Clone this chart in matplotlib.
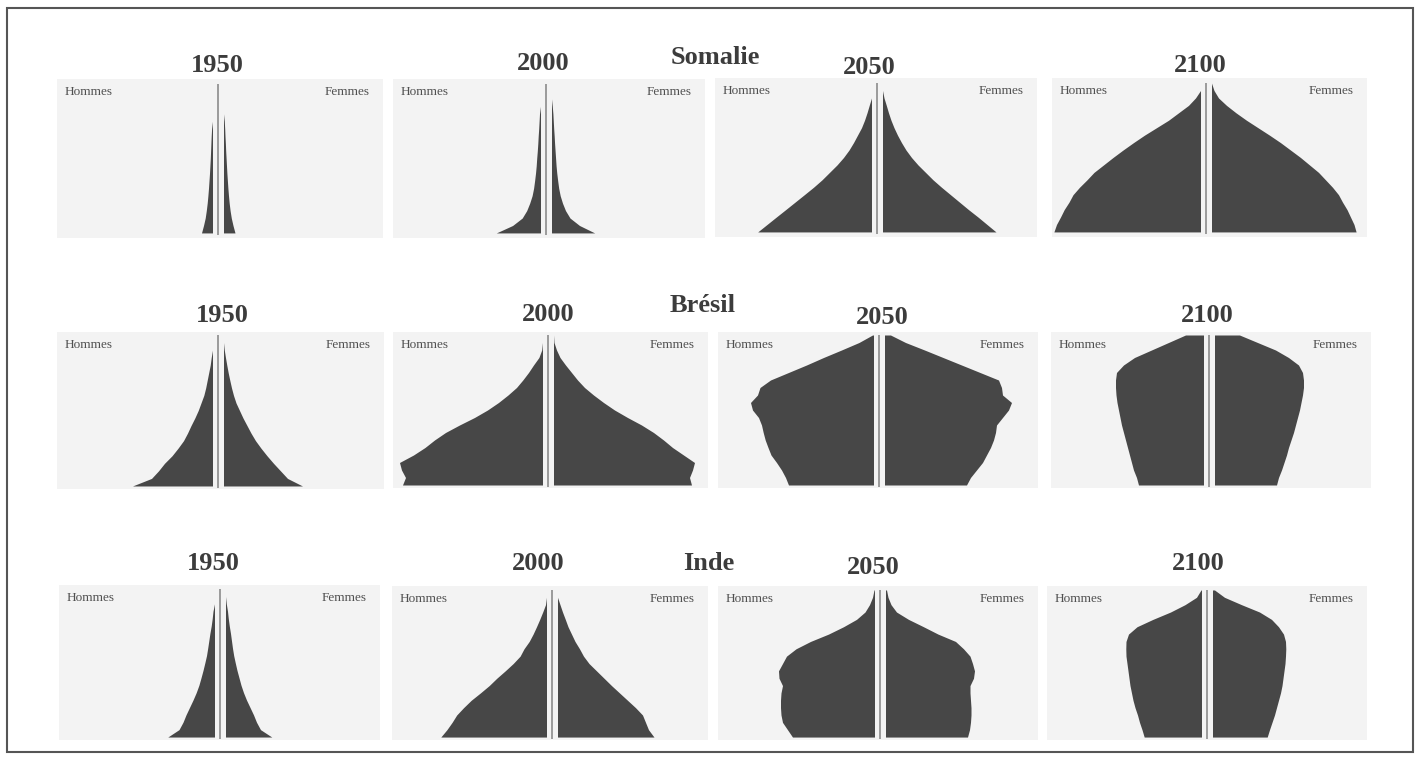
import matplotlib.pyplot as plt
from matplotlib.patches import Rectangle

W, H = 1421, 760

AGES = list(range(0, 101, 5))
YEARS = ["1950", "2000", "2050", "2100"]
COUNTRIES = ["Somalie", "Brésil", "Inde"]

# effectifs par âge (unités relatives, même échelle pour tout le graphique)
SOM_1950_H = [11, 9, 7.3, 6.2, 5.3, 4.6, 4.0, 3.5, 3.0, 2.6, 2.2, 1.9, 1.6, 1.3, 0.9, 0, 0, 0, 0, 0, 0]
SOM_1950_F = [11.5, 9.5, 7.8, 6.6, 5.7, 5.0, 4.4, 3.9, 3.4, 3.0, 2.6, 2.2, 1.9, 1.5, 1.2, 0.8, 0, 0, 0, 0, 0]
SOM_2000_H = [44.2, 27.9, 18.3, 13.8, 10.8, 8.4, 6.9, 5.9, 5.0, 4.3, 3.8, 3.2, 2.7, 2.3, 1.8, 1.4, 1.0, 0, 0, 0, 0]
SOM_2000_F = [43.2, 28, 18.5, 14, 11, 8.7, 7.2, 6.2, 5.3, 4.6, 4.1, 3.6, 3.1, 2.7, 2.2, 1.8, 1.4, 0.8, 0, 0, 0]
SOM_2050_H = [113.8, 104.5, 95.2, 85.8, 76.5, 67.2, 58, 49.5, 42, 34.5, 28, 22.5, 18, 14, 10, 7, 4.5, 2.3, 0, 0, 0]
SOM_2050_F = [113.5, 104.5, 95.5, 86, 77, 68, 59, 50.5, 43, 35.5, 29, 23.5, 19, 15, 11.5, 8.5, 6, 3.8, 1.5, 0, 0]
SOM_2100_H = [146.6, 144, 140, 136.3, 131.5, 127.5, 121, 113.5, 106.5, 97, 87.5, 77.5, 67, 56, 44, 32, 22, 12, 5, 0, 0]
SOM_2100_F = [144.6, 142.5, 139, 135.5, 131, 127, 121, 114, 107, 98, 89, 79, 69, 58, 46.5, 35, 24.5, 15, 7, 2.5, 0]

BRA_1950_H = [80, 61, 54, 48, 40.5, 34.5, 29, 25, 21.5, 17.7, 14.3, 11.5, 8.7, 6.8, 5.3, 3.8, 2.3, 1.3, 0, 0, 0]
BRA_1950_F = [79, 64, 57, 50, 43.5, 37.5, 32, 27.5, 23.5, 19.5, 16, 12.5, 10, 8, 6.3, 4.7, 3.3, 2, 0.8, 0, 0]
BRA_2000_H = [140, 137, 141, 143, 129, 117.5, 108, 97, 83, 68, 55, 44, 34.5, 26, 19.7, 14, 9, 3.6, 0.8, 0, 0]
BRA_2000_F = [138, 136, 139, 141, 130, 119, 110, 100, 88, 74, 61, 50, 40, 31, 24, 18, 12, 6.5, 3, 0.5, 0]
BRA_2050_H = [85, 88, 92, 97, 102.5, 105.5, 108.3, 110.3, 112, 115, 121, 123, 116, 113.5, 103, 85, 67, 50, 32, 14.5, 1]
BRA_2050_F = [82, 86, 92, 98, 102, 106, 109, 111, 112, 118, 124, 127, 118, 117, 114, 95.5, 77, 58.5, 40, 21, 6]
BRA_2100_H = [65, 67, 70, 72, 74, 76, 78, 80, 82, 83.5, 85, 86.5, 87.5, 88, 88, 87, 80, 69, 52, 35, 18]
BRA_2100_F = [62, 64, 67, 69.5, 72, 74, 76.5, 79, 81, 83, 85, 86.5, 88, 89, 89, 88, 84, 74, 61, 43, 25]

IND_1950_H = [46.7, 35.5, 31.5, 28.5, 25, 21.5, 18.3, 15.6, 13.5, 11.5, 9.7, 8, 6.8, 5.7, 4.6, 3.3, 2.3, 1.5, 0, 0, 0]
IND_1950_F = [46.3, 35, 31, 28, 24.5, 21, 18, 15.5, 13.5, 11.5, 9.8, 8.2, 7, 6, 5, 3.8, 2.8, 2, 0.8, 0, 0]
IND_2000_H = [105.7, 99.6, 94.4, 89.8, 82.9, 75.3, 66.1, 57.3, 49.7, 41.3, 33.3, 26.4, 22.5, 17.3, 13.4, 10, 6.8, 3.8, 1, 0, 0]
IND_2000_F = [96.5, 91, 88, 85, 78, 70, 62, 54, 46.5, 39, 31.5, 26, 22, 17.5, 14, 10.5, 7.8, 5, 2.5, 0, 0]
IND_2050_H = [82, 87, 92, 93.5, 94, 94, 93.5, 92, 95.5, 96, 92, 88, 78.5, 64, 46, 31, 18, 9.5, 5, 2, 0.5]
IND_2050_F = [82, 84, 85, 85.5, 85.5, 85, 84.5, 84.5, 88, 89, 87, 84.5, 78, 70, 52.5, 38, 23, 11, 5.5, 2.5, 1]
IND_2100_H = [57.3, 59.5, 62, 64, 66.5, 68.5, 70, 71.5, 72.5, 73.5, 74.5, 75.5, 75.7, 75.5, 73, 64.5, 48.6, 31, 16.5, 5, 0.5]
IND_2100_F = [54.7, 57, 59.5, 62, 64, 66, 68, 69.5, 70.5, 71.5, 72.5, 73, 73.3, 73, 71, 66, 59, 47, 29, 12, 2]

PYRAMIDS = [
    [(SOM_1950_H, SOM_1950_F), (SOM_2000_H, SOM_2000_F), (SOM_2050_H, SOM_2050_F), (SOM_2100_H, SOM_2100_F)],
    [(BRA_1950_H, BRA_1950_F), (BRA_2000_H, BRA_2000_F), (BRA_2050_H, BRA_2050_F), (BRA_2100_H, BRA_2100_F)],
    [(IND_1950_H, IND_1950_F), (IND_2000_H, IND_2000_F), (IND_2050_H, IND_2050_F), (IND_2100_H, IND_2100_F)],
]

# mise en page (pixels) : gauche, haut, droite, bas, axe central
BOXES = [
    [(57, 79, 383, 238, 218), (393, 79, 705, 238, 546), (715, 78, 1037, 237, 877), (1052, 78, 1367, 237, 1206)],
    [(57, 332, 384, 489, 218), (393, 332, 708, 488, 548), (718, 332, 1038, 488, 879), (1051, 332, 1371, 488, 1209)],
    [(59, 585, 380, 740, 220), (392, 586, 708, 740, 552), (718, 586, 1038, 740, 880), (1047, 586, 1367, 740, 1207)],
]
YEAR_POS = [
    [(217, 66), (543, 64), (869, 68), (1200, 66)],
    [(222, 315), (548, 314), (882, 317), (1207, 316)],
    [(213, 564), (538, 563), (873, 567), (1198, 564)],
]
COUNTRY_POS = [(715, 57), (703, 305), (709, 563)]
ROW_YLIM = [(-3.4, 103.4), (-2.0, 102.0), (-2.0, 102.7)]

GAP = 5.5
BAR = "#474747"
PANEL_BG = "#f3f3f3"
TITLE = "#3c3c3c"
SERIF = "Liberation Serif"

fig = plt.figure(figsize=(W / 100, H / 100), dpi=100)
fig.patch.set_facecolor("white")

for r in range(3):
    for c in range(4):
        left, top, right, bottom, mid = BOXES[r][c]
        ax = fig.add_axes([left / W, 1 - bottom / H, (right - left) / W, (bottom - top) / H])
        ax.set_facecolor(PANEL_BG)
        hommes, femmes = PYRAMIDS[r][c]
        ax.fill_betweenx(AGES, [-GAP - v for v in hommes], -GAP, color=BAR, lw=0)
        ax.fill_betweenx(AGES, GAP, [GAP + v for v in femmes], color=BAR, lw=0)
        ax.vlines(0, -1.5, 100, color="#9a9a9a", lw=1.4)
        ax.set_xlim(-(mid - left), right - mid)
        ax.set_ylim(*ROW_YLIM[r])
        ax.set_xticks([])
        ax.set_yticks([])
        for s in ax.spines.values():
            s.set_visible(False)
        pw = right - left
        ph = bottom - top
        ax.text(8 / pw, 1 - 13 / ph, "Hommes", transform=ax.transAxes, ha="left", va="center",
                fontsize=9.5, family=SERIF, color="#505050")
        ax.text(1 - 13 / pw, 1 - 13 / ph, "Femmes", transform=ax.transAxes, ha="right", va="center",
                fontsize=9.5, family=SERIF, color="#505050")

        x, y = YEAR_POS[r][c]
        fig.text(x / W, 1 - y / H, YEARS[c], ha="center", va="center", fontsize=19,
                 fontweight="bold", family=SERIF, color=TITLE)

    x, y = COUNTRY_POS[r]
    fig.text(x / W, 1 - y / H, COUNTRIES[r], ha="center", va="center", fontsize=19,
             fontweight="bold", family=SERIF, color=TITLE)

# cadre extérieur
fig.add_artist(Rectangle((7 / W, 1 - 752 / H), (1413 - 7) / W, (752 - 8) / H,
                         transform=fig.transFigure, fill=False, ec="#555555", lw=1.5))

fig.savefig("out.png", dpi=100)
